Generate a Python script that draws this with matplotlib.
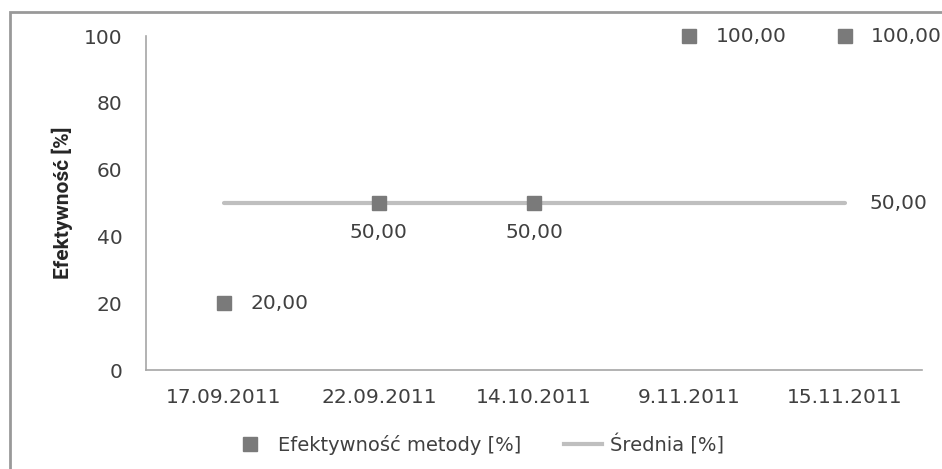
import matplotlib.pyplot as plt
from matplotlib.patches import Rectangle
from matplotlib.lines import Line2D

dates = ["17.09.2011", "22.09.2011", "14.10.2011", "9.11.2011", "15.11.2011"]
efektywnosc = [20, 50, 50, 100, 100]
srednia = [50, 50, 50, 50, 50]
# where each data label sits relative to its marker
label_side = ["right", "below", "below", "right", "right"]

MARKER = "#7a7a7a"
LINE = "#bfbfbf"
TEXT = "#404040"
NARROW = ["DejaVu Sans Condensed", "Liberation Sans Narrow", "Roboto", "DejaVu Sans"]
FS = 14.5

plt.rcParams["font.family"] = "DejaVu Sans"

fig = plt.figure(figsize=(9.42, 4.69), dpi=100)
ax = fig.add_axes([0.155, 0.211, 0.824, 0.712])

x = range(len(dates))
ax.plot(x, srednia, color=LINE, lw=3, solid_capstyle="round", zorder=2)
ax.plot(x, efektywnosc, ls="none", marker="s", ms=9.5, color=MARKER,
        clip_on=False, zorder=3)

for i, v in enumerate(efektywnosc):
    txt = f"{v:.2f}".replace(".", ",")
    if label_side[i] == "right":
        ax.annotate(txt, (i, v), xytext=(19, 0), textcoords="offset points",
                    ha="left", va="center", fontsize=FS, color=TEXT)
    else:
        ax.annotate(txt, (i, v), xytext=(0, -21), textcoords="offset points",
                    ha="center", va="center", fontsize=FS, color=TEXT)
ax.annotate(f"{srednia[-1]:.2f}".replace(".", ","), (len(dates) - 1, srednia[-1]),
            xytext=(18, 0), textcoords="offset points",
            ha="left", va="center", fontsize=FS, color=TEXT)

ax.set_xlim(-0.5, len(dates) - 0.5)
ax.set_ylim(0, 100)
ax.set_yticks([0, 20, 40, 60, 80, 100])
ax.set_xticks(list(x))
ax.set_xticklabels(dates)
ax.tick_params(axis="both", length=0, labelsize=FS, labelcolor=TEXT)
ax.tick_params(axis="y", pad=17)
ax.tick_params(axis="x", pad=13)
for s in ["top", "right"]:
    ax.spines[s].set_visible(False)
for s in ["left", "bottom"]:
    ax.spines[s].set_color("#a6a6a6")
    ax.spines[s].set_linewidth(1.2)

ax.set_ylabel("Efektywność [%]", family=NARROW, fontsize=15, fontweight="bold",
              color="#262626", labelpad=8)

handles = [
    Line2D([], [], ls="none", marker="s", ms=9.5, color=MARKER),
    Line2D([], [], color=LINE, lw=3),
]
fig.legend(handles, ["Efektywność metody [%]", "Średnia [%]"],
           loc="center", bbox_to_anchor=(0.507, 0.052), ncol=2, frameon=False,
           prop={"family": "DejaVu Sans", "size": 14},
           labelcolor=TEXT, handlelength=2.0, columnspacing=2.2, handletextpad=0.4)

fig.patches.append(Rectangle((10 / 942, -0.1), 1.2, 1 - 12 / 469 + 0.1,
                             transform=fig.transFigure, fill=False,
                             edgecolor="#999999", lw=2))

fig.savefig("out.png", dpi=100)
